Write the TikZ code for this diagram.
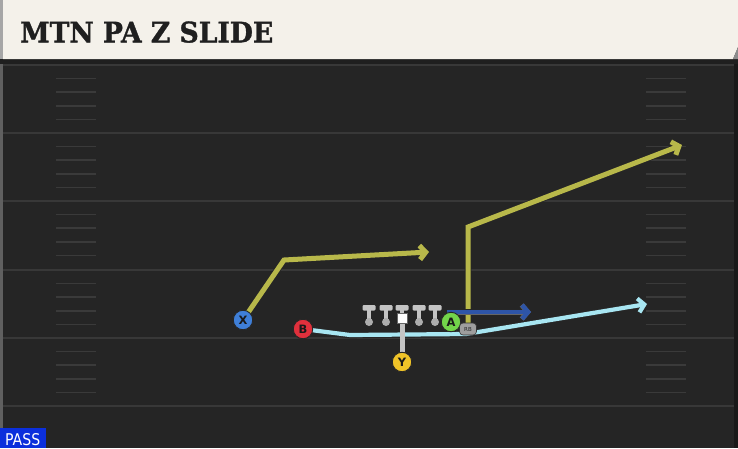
\documentclass[tikz,border=0pt]{standalone}
\usepackage{fontspec}
\setmainfont{DejaVu Serif}
\newfontfamily\titlefont{DejaVu Serif}[BoldFeatures={FakeBold=1.2}]
\newfontfamily\sansf{DejaVu Sans}
\newfontfamily\sanscond{DejaVu Sans Condensed}
\usetikzlibrary{arrows.meta}
\definecolor{cream}{HTML}{F4F1EA}
\definecolor{fieldbg}{HTML}{252525}
\definecolor{yardln}{HTML}{383838}
\definecolor{hashln}{HTML}{3A3A3A}
\definecolor{olive}{HTML}{B8B84A}
\definecolor{lblue}{HTML}{A8E6F2}
\definecolor{dblue}{HTML}{2E55A8}
\definecolor{xblue}{HTML}{3F7FD8}
\definecolor{bred}{HTML}{E0303C}
\definecolor{agreen}{HTML}{72D44A}
\definecolor{yyellow}{HTML}{F0C428}
\definecolor{passblue}{HTML}{0B2FDC}
\definecolor{lineman}{HTML}{C4C4C4}
\begin{document}
\begin{tikzpicture}[x=1pt,y=-1pt,
  yard/.style={draw=yardln,line width=2pt},
  hash/.style={draw=hashln,line width=1.6pt},
  route/.style={draw=#1,line width=5pt,line join=miter,
    -{Straight Barb[length=6pt,width=14pt]},
    preaction={draw=black!85,line width=6.6pt}},
  player/.style={circle,draw=black!85,line width=0.9pt,minimum size=19.5pt,inner sep=0pt,
    font=\sansf\bfseries\fontsize{11.5}{11.5}\selectfont,text=black!90},
  rbstyle/.style={fill=black!38,draw=black!80,line width=0.6pt,rounded corners=3.5pt,minimum width=17pt,
    minimum height=12pt,inner sep=0pt,font=\sansf\fontsize{5.5}{5.5}\selectfont,text=black!85},
  center/.style={fill=white,draw=black!60,line width=0.4pt,minimum size=9.5pt,inner sep=0pt},
]
\useasboundingbox (0,0) rectangle (738,448);
% field
\fill[fieldbg] (0,0) rectangle (738,448);
\fill[black!88] (0,59) rectangle (738,64);
\fill[yardln!80] (0,64) rectangle (3,448);
\fill[black!90] (734,64) rectangle (738,448);
\foreach \y in {65,133,201,270,338,406} \draw[yard] (3,\y) -- (734,\y);
\foreach \y in {65,133,201,270,338} {
  \foreach \k in {1,2,3,4} {
    \draw[hash] (56,\y+\k*13.6) -- (96,\y+\k*13.6);
    \draw[hash] (646,\y+\k*13.6) -- (686,\y+\k*13.6);
  }
}
% header
\fill[black!35] (0,0) rectangle (3,59);
\fill[cream] (3,0) -- (738,0) -- (738,47) -- (733,59) -- (3,59) -- cycle;
\fill[black!45] (738,47) -- (738,59) -- (733,59) -- cycle;
\node[anchor=south west,inner sep=0pt,text=black!88] (title) at (20,43)
  {\resizebox{253pt}{21pt}{\titlefont\bfseries MTN PA Z SLIDE}};
% players (named nodes)
\node[player,fill=xblue] (X) at (243,320) {X};
\node[player,fill=bred] (B) at (303,329) {B};
\node[player,fill=agreen] (A) at (451,322) {A};
\node[player,fill=yyellow] (Y) at (402,362) {Y};
\node[rbstyle] (RB) at (468,329) {RB};
\node[center] (C) at (402,318) {};
% route points
\coordinate (xb) at (284,260);
\coordinate (xe) at (429,252);
\coordinate (rbb) at (468,227);
\coordinate (rbe) at (682,145);
\coordinate (a0) at (447,312);
\coordinate (ae) at (531,312);
\coordinate (b1) at (350,335);
\coordinate (b2) at (466,334);
\coordinate (be) at (647,304);
% routes
\draw[route=lblue,line width=4.2pt,preaction={draw=black!85,line width=5.6pt}] (B.center) -- (b1) -- (b2) -- (be);
\draw[route=olive] (X.center) -- (xb) -- (xe);
\draw[route=olive] (RB.center) -- (rbb) -- (rbe);
\draw[route=dblue,line width=4.4pt,preaction={draw=black!60,line width=5pt}] (a0) -- (ae);
% linemen
\draw[draw=lineman,line width=5pt] (C) -- (Y);
\foreach \lx in {369,386,419,435} {
  \fill[lineman] (\lx-2,308) rectangle (\lx+2,321);
  \fill[lineman,rounded corners=1.2pt] (\lx-6.5,305) rectangle (\lx+6.5,310.5);
  \fill[black!32] (\lx,322) circle (4pt);
}
\fill[lineman] (402-2,308) rectangle (402+2,314);
\fill[lineman,rounded corners=1.2pt] (402-6.5,305) rectangle (402+6.5,310.5);
\node[center] at (C) {};
% players on top of routes
\node[player,fill=xblue] at (X) {X};
\node[player,fill=bred] at (B) {B};
\node[player,fill=agreen] at (A) {A};
\node[player,fill=yyellow] at (Y) {Y};
\node[rbstyle] at (RB) {RB};
% PASS label
\fill[passblue] (0,428) rectangle (46,448);
\node[anchor=south west,inner sep=0pt,text=white] (pass) at (5,445.5)
  {\resizebox{35pt}{12pt}{\sanscond PASS}};
\end{tikzpicture}
\end{document}
